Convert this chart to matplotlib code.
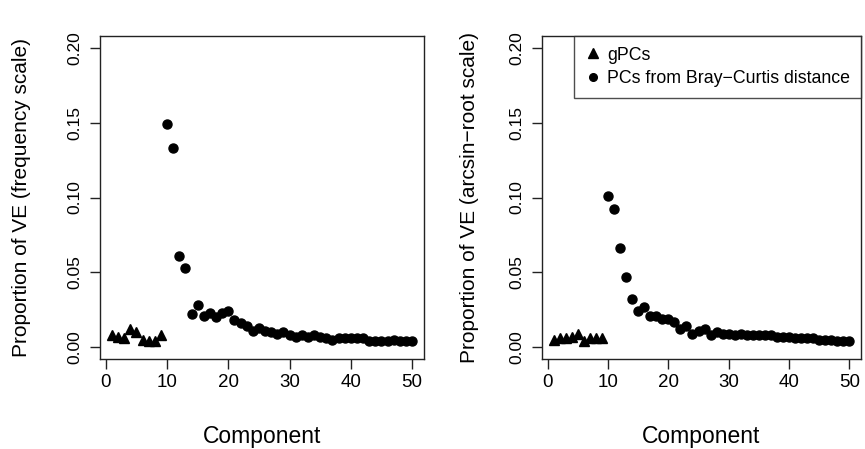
import matplotlib

matplotlib.use("Agg")
import matplotlib.pyplot as plt
from matplotlib.lines import Line2D

plt.rcParams["font.family"] = ["Liberation Sans", "DejaVu Sans"]

# component indices
gpc_comp = list(range(1, 10))
bc_comp = list(range(10, 51))

# frequency scale
gpc_freq = [0.008, 0.007, 0.006, 0.012, 0.010, 0.005, 0.004, 0.004, 0.008]
bc_freq = [
    0.149, 0.133, 0.061, 0.053, 0.022, 0.028, 0.021, 0.023, 0.020, 0.023,
    0.024, 0.018, 0.016, 0.014, 0.011, 0.013, 0.011, 0.010, 0.009, 0.010,
    0.008, 0.007, 0.008, 0.007, 0.008, 0.007, 0.006, 0.005, 0.006, 0.006,
    0.006, 0.006, 0.006, 0.004, 0.004, 0.004, 0.004, 0.005, 0.004, 0.004,
    0.004,
]

# arcsin-root scale
gpc_asin = [0.005, 0.006, 0.006, 0.007, 0.009, 0.004, 0.006, 0.006, 0.006]
bc_asin = [
    0.101, 0.092, 0.066, 0.047, 0.032, 0.024, 0.027, 0.021, 0.021, 0.019,
    0.019, 0.017, 0.012, 0.014, 0.009, 0.011, 0.012, 0.008, 0.010, 0.009,
    0.009, 0.008, 0.009, 0.008, 0.008, 0.008, 0.008, 0.008, 0.007, 0.007,
    0.007, 0.006, 0.006, 0.006, 0.006, 0.005, 0.005, 0.005, 0.004, 0.004,
    0.004,
]

x_ticks = [0, 10, 20, 30, 40, 50]
y_ticks = [0.00, 0.05, 0.10, 0.15, 0.20]
y_ticklabels = ["0.00", "0.05", "0.10", "0.15", "0.20"]
panel_ylabels = ["Proportion of VE (frequency scale)", "Proportion of VE (arcsin\u2212root scale)"]
legend_labels = ["gPCs", "PCs from Bray\u2212Curtis distance"]


def draw_panel(ax, gpc, bc, ylabel, ylabel_x):
    ax.plot(gpc_comp, gpc, linestyle="none", marker="^", color="black", markersize=7)
    ax.plot(bc_comp, bc, linestyle="none", marker="o", color="black", markersize=6.5)
    ax.set_xlim(-0.96, 51.96)
    ax.set_ylim(-0.008, 0.208)
    ax.set_xticks(x_ticks)
    ax.set_yticks(y_ticks, y_ticklabels)
    for lab in ax.get_yticklabels():
        lab.set_rotation(90)
        lab.set_va("center")
    ax.tick_params(direction="out", length=7, width=1, color="#222222")
    ax.tick_params(axis="y", labelsize=12.5, pad=6)
    ax.tick_params(axis="x", labelsize=13.5, pad=4)
    for spine in ax.spines.values():
        spine.set_linewidth(1)
        spine.set_color("#222222")
    ax.set_xlabel("Component", fontsize=16.5, va="center")
    ax.xaxis.set_label_coords(0.5, -0.241)
    ax.set_ylabel(ylabel, fontsize=15, va="center")
    ax.yaxis.set_label_coords(ylabel_x, 0.5)


fig = plt.figure(figsize=(8.65, 4.49), dpi=100)
ax1 = fig.add_axes([0.1156, 0.2004, 0.3746, 0.7194])
ax2 = fig.add_axes([0.6266, 0.2004, 0.3688, 0.7194])

draw_panel(ax1, gpc_freq, bc_freq, panel_ylabels[0], -0.241)
draw_panel(ax2, gpc_asin, bc_asin, panel_ylabels[1], -0.226)

handles = [
    Line2D([], [], linestyle="none", marker="^", color="black", markersize=6.5),
    Line2D([], [], linestyle="none", marker="o", color="black", markersize=5.5),
]
leg = ax2.legend(
    handles, legend_labels, loc="upper right", fontsize=12.8, frameon=True,
    fancybox=False, edgecolor="#222222", borderpad=0.6, handletextpad=0.3,
    handlelength=1.0, labelspacing=0.35, borderaxespad=0,
)
leg.get_frame().set_linewidth(1)

fig.savefig("out.png", dpi=100)
